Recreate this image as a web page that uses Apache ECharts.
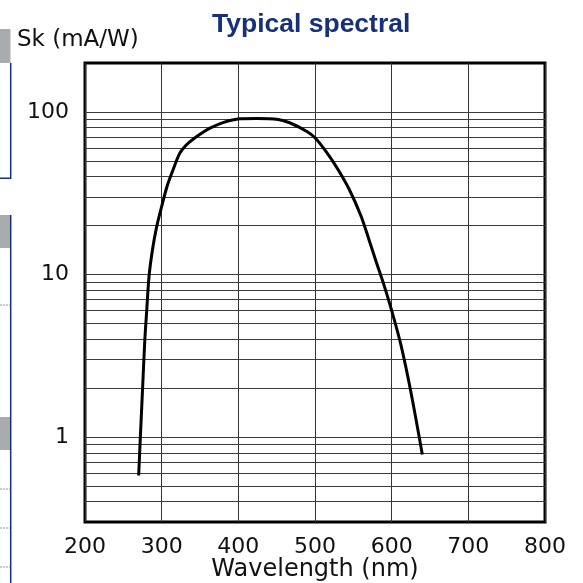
<!DOCTYPE html>
<html>
<head>
<meta charset="utf-8">
<script src="https://cdn.jsdelivr.net/npm/echarts@6/dist/echarts.min.js"></script>
<style>
  html, body { margin: 0; padding: 0; background: #fff; }
  #chart { width: 583px; height: 583px; }
</style>
</head>
<body>
<div id="chart"></div>
<script>
// spectral sensitivity curve
const wavelength = [270, 272, 275, 278, 280.5, 283.5, 288, 293.5, 300, 307, 315, 324, 335, 350, 363, 380, 402, 424, 452, 467, 489, 500, 515, 530, 545, 560, 570, 580, 590, 600, 612, 625, 640];
const sensitivity = [0.58, 0.95, 1.94, 3.94, 6.0, 9.7, 14.2, 19.7, 26.2, 34.8, 44.2, 56, 64.5, 73, 79.5, 86, 90.7, 91.2, 89.9, 85.8, 76.1, 69.3, 56.5, 44.2, 33.1, 22.9, 16.6, 11.9, 8.6, 6.0, 3.7, 1.9, 0.78];

// horizontal rulings of the log paper
const gridLevels = [0.4, 0.5, 0.6, 0.7, 0.8, 0.9, 1, 2, 3, 4, 5, 6, 7, 8, 9, 10, 20, 30, 40, 50, 60, 70, 80, 90, 100];
const yLabels = [1, 10, 100];

const chart = echarts.init(document.getElementById('chart'), null, { renderer: 'canvas' });

const navy = '#16307a';

chart.setOption({
  animation: false,
  backgroundColor: '#fff',
  title: {
    text: 'Typical spectral',
    left: 207,
    top: 6,
    textStyle: { fontFamily: 'Liberation Sans', fontWeight: 'bold', fontSize: 26.5, color: navy },
  },
  grid: {
    left: 85, right: 38, top: 63, bottom: 61,
    outerBoundsMode: 'none',
    show: true, borderColor: '#000', borderWidth: 3, backgroundColor: 'transparent',
  },
  xAxis: {
    type: 'value',
    min: 200, max: 800, interval: 100,
    name: 'Wavelength (nm)',
    nameLocation: 'middle',
    nameGap: 36,
    nameMoveOverlap: false,
    nameTextStyle: { fontFamily: 'DejaVu Sans', fontSize: 24, color: '#111' },
    axisLine: { show: false },
    axisTick: { show: false },
    axisLabel: { fontFamily: 'DejaVu Sans', fontSize: 22, color: '#111', margin: 14 },
    splitLine: { show: true, lineStyle: { color: '#333', width: 1 } },
  },
  yAxis: {
    type: 'log',
    logBase: 10,
    min: 0.3, max: 200,
    axisLine: { show: false },
    axisTick: { show: false },
    splitLine: { show: false },
    axisLabel: {
      fontFamily: 'DejaVu Sans', fontSize: 22, color: '#111', margin: 16,
      formatter: (v) => {
        const hit = yLabels.find((l) => Math.abs(l - v) < 1e-6 * l);
        return hit ? String(hit) : '';
      },
    },
  },
  series: [
    {
      type: 'line',
      data: [],
      silent: true,
      z: 1,
      markLine: {
        silent: true,
        symbol: 'none',
        animation: false,
        label: { show: false },
        lineStyle: { color: '#3c3c3c', width: 1, type: 'solid' },
        data: gridLevels.map((v) => ({ yAxis: v })),
      },
    },
    {
      type: 'line',
      data: wavelength.map((w, i) => [w, sensitivity[i]]),
      smooth: 0.3,
      showSymbol: false,
      z: 5,
      lineStyle: { color: '#000', width: 3 },
    },
  ],
  graphic: [
    // y axis caption
    {
      type: 'text', left: 17, top: 29,
      style: { text: 'Sk (mA/W)', fontFamily: 'DejaVu Sans', fontSize: 23, fill: '#111' },
    },
    // bits of the neighbouring datasheet panel cut off at the left edge
    { type: 'rect', shape: { x: 0, y: 29, width: 10.5, height: 34 }, style: { fill: '#a9acae' } },
    { type: 'polyline', shape: { points: [[10.7, 63], [10.7, 178.3], [0, 178.3]] }, style: { stroke: navy, lineWidth: 1.5, fill: null } },
    { type: 'rect', shape: { x: 0, y: 215, width: 10, height: 33 }, style: { fill: '#a9acae' } },
    { type: 'rect', shape: { x: 0, y: 417, width: 10, height: 33 }, style: { fill: '#a9acae' } },
    { type: 'line', shape: { x1: 10.7, y1: 215, x2: 10.7, y2: 583 }, style: { stroke: navy, lineWidth: 1.5 } },
    { type: 'line', shape: { x1: 0, y1: 305, x2: 10, y2: 305 }, style: { stroke: '#999', lineWidth: 1, lineDash: [2, 1] } },
    { type: 'line', shape: { x1: 0, y1: 489, x2: 10, y2: 489 }, style: { stroke: '#999', lineWidth: 1, lineDash: [2, 1] } },
    { type: 'line', shape: { x1: 0, y1: 528, x2: 10, y2: 528 }, style: { stroke: '#999', lineWidth: 1, lineDash: [2, 1] } },
    { type: 'line', shape: { x1: 0, y1: 567, x2: 10, y2: 567 }, style: { stroke: '#999', lineWidth: 1, lineDash: [2, 1] } },
  ],
});
</script>
</body>
</html>
